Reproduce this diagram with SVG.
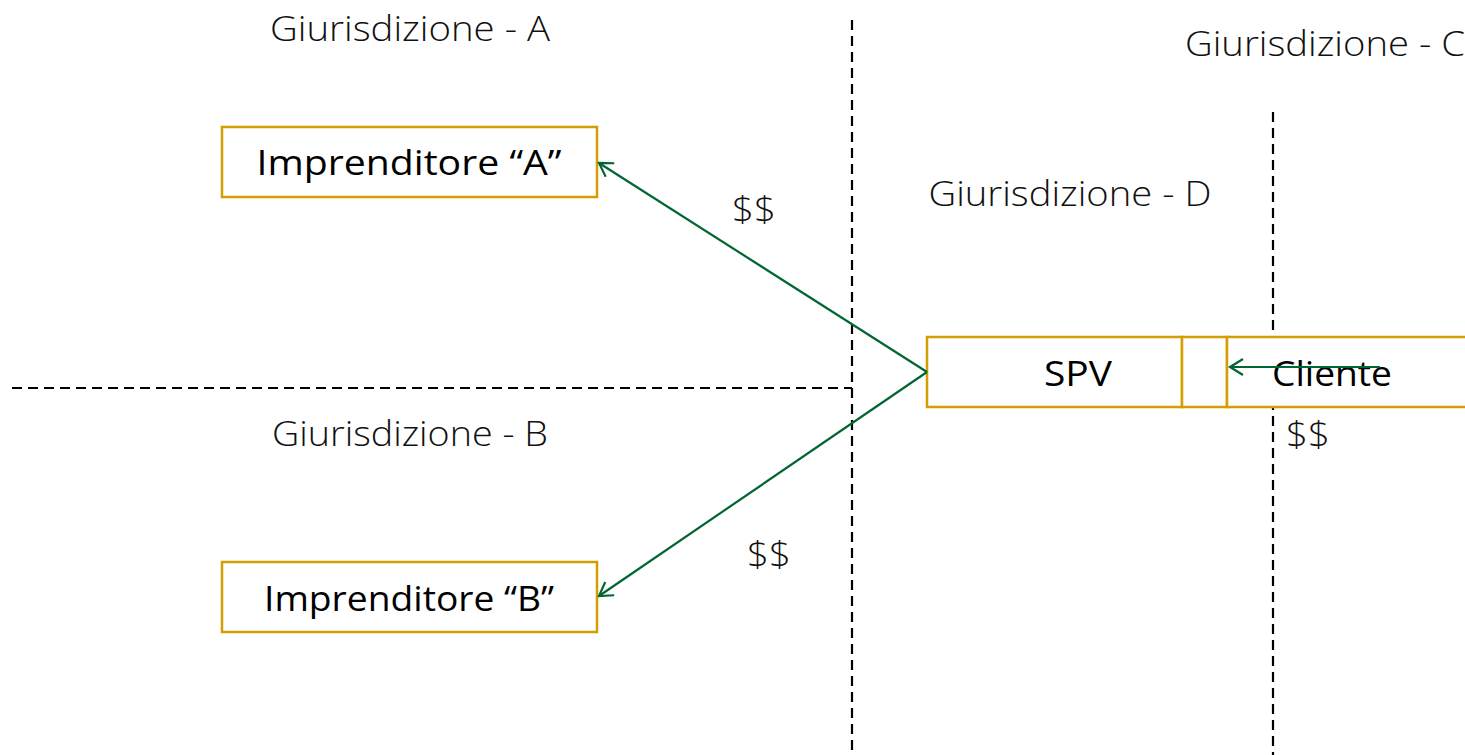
<svg xmlns="http://www.w3.org/2000/svg" width="1465" height="755" viewBox="0 0 1465 755">
<style>
.hdr{font-family:"Open Sans","Liberation Sans",sans-serif;font-weight:300;font-size:34px;fill:#111;text-anchor:middle}
.lbl{font-family:"Open Sans","Liberation Sans",sans-serif;font-weight:400;font-size:35px;fill:#000;text-anchor:middle}
.box{fill:#fff;stroke:#D49E00;stroke-width:2.5}
.dash{stroke:#000;stroke-width:2.2;stroke-dasharray:10,6;fill:none}
.conn{stroke:#006633;stroke-width:2.2;fill:none;marker-end:url(#arr)}
</style>
<defs>
<marker id="arr" markerWidth="18" markerHeight="18" refX="14" refY="9" orient="auto" markerUnits="userSpaceOnUse">
<path d="M1,1 L14,9 L1,17" fill="none" stroke="#006633" stroke-width="2.2"/>
</marker>
</defs>
<rect width="1465" height="755" fill="#fff"/>
<g id="boundaries">
<line class="dash" x1="852" y1="20" x2="852" y2="755"/>
<line class="dash" x1="1273" y1="112" x2="1273" y2="755"/>
<line class="dash" x1="12" y1="388" x2="852" y2="388"/>
</g>
<g id="headers">
<text class="hdr" x="410" y="41" textLength="280" lengthAdjust="spacingAndGlyphs">Giurisdizione - A</text>
<text class="hdr" x="1325" y="56" textLength="280" lengthAdjust="spacingAndGlyphs">Giurisdizione - C</text>
<text class="hdr" x="1070" y="206" textLength="283" lengthAdjust="spacingAndGlyphs">Giurisdizione - D</text>
<text class="hdr" x="410" y="446" textLength="276" lengthAdjust="spacingAndGlyphs">Giurisdizione - B</text>
</g>
<g id="node-a">
<rect class="box" x="222" y="127" width="375" height="70"/>
<text class="lbl" x="409" y="175" textLength="305" lengthAdjust="spacingAndGlyphs">Imprenditore “A”</text>
</g>
<g id="node-b">
<rect class="box" x="222" y="562" width="375" height="70"/>
<text class="lbl" x="409" y="611" textLength="290" lengthAdjust="spacingAndGlyphs">Imprenditore “B”</text>
</g>
<g id="node-spv">
<rect class="box" x="927" y="337" width="255" height="70"/>
<text class="lbl" x="1078" y="386" textLength="68" lengthAdjust="spacingAndGlyphs">SPV</text>
</g>
<g id="node-mid">
<rect class="box" x="1182" y="337" width="45" height="70"/>
</g>
<g id="node-cliente">
<rect class="box" x="1227" y="337" width="260" height="70"/>
<text class="lbl" x="1332" y="386" textLength="120" lengthAdjust="spacingAndGlyphs">Cliente</text>
</g>
<g id="connectors">
<line class="conn" x1="927" y1="372" x2="599" y2="163"/>
<line class="conn" x1="927" y1="372" x2="599" y2="596"/>
<line class="conn" x1="1380" y1="367" x2="1230" y2="367"/>
</g>
<g id="labels">
<text class="hdr" x="754" y="222" textLength="44" lengthAdjust="spacingAndGlyphs">$$</text>
<text class="hdr" x="769" y="567" textLength="44" lengthAdjust="spacingAndGlyphs">$$</text>
<text class="hdr" x="1308" y="447" textLength="44" lengthAdjust="spacingAndGlyphs">$$</text>
</g>
</svg>
